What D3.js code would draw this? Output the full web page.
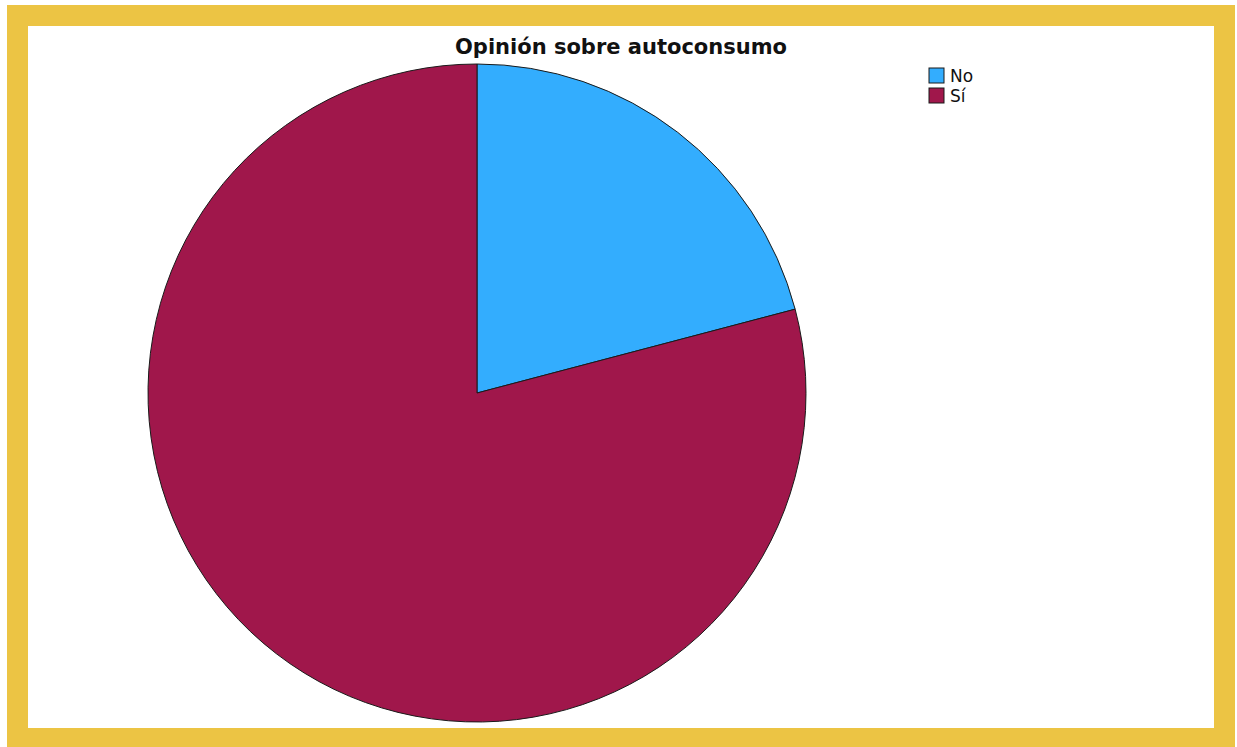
<!DOCTYPE html>
<html>
<head>
<meta charset="utf-8">
<script src="https://cdn.jsdelivr.net/npm/d3@7"></script>
<style>
  html, body { margin: 0; padding: 0; background: #ffffff; }
  svg { display: block; }
</style>
</head>
<body>
<svg id="chart" width="1237" height="747"></svg>
<script>
const categories = ["No", "Sí"];
const values = [20.9, 79.1];
const colors = ["#33adfe", "#a0174b"];
const title = "Opinión sobre autoconsumo";

const svg = d3.select("#chart");

// frame
svg.append("rect").attr("x", 7).attr("y", 5).attr("width", 1228).attr("height", 742).attr("fill", "#ecc444");
svg.append("rect").attr("x", 28).attr("y", 26).attr("width", 1186).attr("height", 702).attr("fill", "#ffffff");

const cx = 477, cy = 393, r = 329;
const color = d3.scaleOrdinal().domain(categories).range(colors);
const pie = d3.pie().sort(null).value(d => d.v);
const data = categories.map((c, i) => ({ c, v: values[i] }));
const arc = d3.arc().innerRadius(0).outerRadius(r);

svg.append("g").attr("transform", `translate(${cx},${cy})`)
  .selectAll("path").data(pie(data)).join("path")
  .attr("d", arc)
  .attr("fill", d => color(d.data.c))
  .attr("stroke", "#1a1a1a")
  .attr("stroke-width", 1);

svg.append("text")
  .attr("x", 621).attr("y", 54)
  .attr("text-anchor", "middle")
  .attr("font-family", "DejaVu Sans, sans-serif")
  .attr("font-weight", "bold")
  .attr("font-size", 21)
  .attr("fill", "#111")
  .text(title);

const lg = svg.append("g").attr("transform", "translate(929,68)");
const items = lg.selectAll("g").data(categories).join("g")
  .attr("transform", (d, i) => `translate(0,${i * 20})`);
items.append("rect").attr("width", 15).attr("height", 15)
  .attr("fill", d => color(d)).attr("stroke", "#1a1a1a").attr("stroke-width", 1);
items.append("text").attr("x", 21).attr("y", 14)
  .attr("font-family", "DejaVu Sans, sans-serif")
  .attr("font-size", 17).attr("fill", "#111")
  .text(d => d);
</script>
</body>
</html>
